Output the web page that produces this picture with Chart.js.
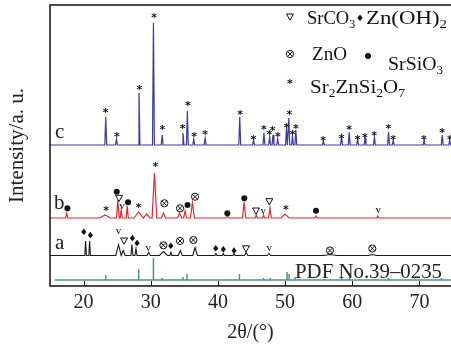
<!DOCTYPE html>
<html>
<head>
<meta charset="utf-8">
<script src="https://cdn.jsdelivr.net/npm/chart.js@4.4.1/dist/chart.umd.min.js"></script>
<style>
  html, body { margin: 0; padding: 0; background: #fff; }
  #wrap { width: 451px; height: 346px; }
</style>
</head>
<body>
<div id="wrap"><canvas id="chart7"></canvas></div>
<script>
// peak positions (2theta, deg), heights (a.u. above the trace baseline), half widths (deg)
const cPos = [23.3, 24.9, 28.25, 30.4, 31.7, 34.8, 35.45, 36.4, 38.1, 43.25, 45.3, 46.85, 47.7, 48.2, 48.9, 50.2, 50.55, 51.1, 51.6, 55.7, 58.4, 59.55, 60.8, 61.9, 63.3, 65.4, 66.1, 70.7, 73.4, 74.5];
const cInt = [28, 6, 52, 122, 10, 12, 34, 6, 7, 28, 5, 12, 8, 10, 6, 17, 27, 9, 15, 4, 8, 13, 6, 7, 8, 13, 5, 5, 10, 5];

const bPos = [17.5, 23.2, 25.1, 25.6, 26.5, 28.2, 29.4, 30.55, 31.9, 34.3, 35.1, 36.2, 41.4, 43.9, 45.7, 46.8, 47.75, 50.0, 54.6, 63.8];
const bInt = [5, 3, 18, 8, 12, 6, 4, 45, 5, 5, 7, 15, 2, 15, 3, 3, 10, 4, 2, 2];
const bWid = [0.15, 0.8, 0.2, 0.15, 0.15, 0.7, 0.5, 0.35, 0.3, 0.3, 0.2, 0.3, 0.2, 0.25, 0.15, 0.15, 0.2, 0.6, 0.15, 0.15];

const aPos = [20.3, 20.9, 25.2, 25.9, 27.2, 27.8, 29.7, 31.9, 33.0, 34.4, 36.6, 39.7, 40.8, 42.4, 44.2, 47.6, 56.7, 63.0];
const aInt = [14.5, 14.5, 11, 5, 11, 7, 3, 4, 3, 5, 8, 2, 2, 2, 3, 2, 1, 1];
const aWid = [0.12, 0.12, 0.4, 0.3, 0.15, 0.15, 0.25, 0.6, 0.15, 0.3, 0.35, 0.15, 0.15, 0.15, 0.25, 0.25, 1.0, 0.6];

// PDF No.39-0235 reference lines
const pdfPos = [23.3, 28.2, 30.4, 31.7, 34.8, 35.4, 43.2, 46.8, 47.8, 50.3, 50.6, 51.5, 55.8, 58.4, 59.6, 65.4, 73.3];
const pdfInt = [5, 11, 22, 2, 3, 6, 6, 2, 2, 8, 6, 3, 1, 2, 3, 2, 2];

// phase marks: position, symbol, height above baseline
const cMarkPos = [23.3, 24.94, 28.3, 30.49, 31.73, 34.76, 35.51, 36.44, 38.08, 43.29, 45.27, 46.86, 47.65, 48.15, 48.94, 50.24, 50.63, 51.13, 51.62, 55.68, 58.42, 59.55, 60.8, 61.89, 63.27, 65.36, 66.1, 70.67, 73.39, 74.54];
const cMarkY = [34, 10, 57, 129, 17, 18, 41, 10, 12, 32, 7, 17, 12, 16, 10, 19, 32, 12, 18, 6, 8, 17, 7, 9, 11, 18, 7, 7, 14, 7];

const bMarkPos = [17.59, 23.35, 24.94, 25.28, 25.73, 26.62, 28.21, 30.68, 32.02, 34.36, 35.48, 36.59, 41.4, 43.93, 45.67, 46.76, 47.65, 50.13, 54.6, 63.87];
const bMarkSym = ['dot', 'star', 'dot', 'tri', 'v', 'dot', 'star', 'star', 'ox', 'ox', 'dot', 'ox', 'dot', 'dot', 'tri', 'v', 'tri', 'star', 'dot', 'v'];
const bMarkY = [9.7, 8.7, 26.3, 19.7, 12, 15.7, 12.3, 53.3, 14.7, 9.7, 13, 21.3, 4.7, 19.7, 7, 7, 16.3, 9.7, 7.3, 8];

const aMarkPos = [20.03, 21.01, 25.18, 26.03, 27.26, 27.96, 29.64, 31.88, 32.98, 34.36, 36.34, 39.67, 40.8, 42.4, 44.18, 47.65, 56.68, 62.98];
const aMarkSym = ['dia', 'dia', 'v', 'tri', 'dia', 'dia', 'v', 'ox', 'dia', 'ox', 'ox', 'dia', 'dia', 'dia', 'tri', 'v', 'ox', 'ox'];
const aMarkY = [23.5, 20.2, 24.5, 14.5, 17.2, 12.2, 7.8, 10.2, 9.5, 14.5, 15.5, 7, 6, 4.7, 6.7, 7, 5, 7];

// vertical offsets of the stacked patterns
const offC = 141, offB = 68, offA = 30.5, offPdf = 6;

function profile(pos, inten, wid, off, from, to) {
  const pts = [{x: from, y: off}, {x: to, y: off}];
  pos.forEach((p, i) => {
    const w = Array.isArray(wid) ? wid[i] : wid;
    pts.push({x: p - w, y: off}, {x: p, y: off + inten[i]}, {x: p + w, y: off});
  });
  return pts.sort((u, v) => u.x - v.x);
}

function sticks(pos, inten, off, from, to) {
  const pts = [{x: from, y: off}];
  pos.forEach((p, i) => {
    pts.push({x: p, y: off}, {x: p, y: off + inten[i]}, {x: p, y: off});
  });
  pts.push({x: to, y: off});
  return pts;
}

const serif = '"Liberation Serif", "DejaVu Serif", serif';

function mark(ctx, sym, x, y) {
  ctx.save();
  ctx.fillStyle = '#111';
  ctx.strokeStyle = '#111';
  ctx.lineWidth = 1;
  if (sym === 'star') {
    ctx.font = 'bold 11px "DejaVu Sans"';
    ctx.textAlign = 'center';
    ctx.textBaseline = 'middle';
    ctx.fillText('*', x, y + 2);
  } else if (sym === 'dot') {
    ctx.beginPath(); ctx.arc(x, y, 3, 0, Math.PI * 2); ctx.fill();
  } else if (sym === 'dia') {
    ctx.beginPath();
    ctx.moveTo(x, y - 3.5); ctx.lineTo(x + 2.6, y); ctx.lineTo(x, y + 3); ctx.lineTo(x - 2.6, y);
    ctx.closePath(); ctx.fill();
  } else if (sym === 'tri') {
    ctx.beginPath();
    ctx.moveTo(x - 3.5, y - 3); ctx.lineTo(x + 3.5, y - 3); ctx.lineTo(x, y + 3.2);
    ctx.closePath(); ctx.stroke();
  } else if (sym === 'v') {
    ctx.font = '11px ' + serif;
    ctx.textAlign = 'center';
    ctx.textBaseline = 'middle';
    ctx.fillText('v', x, y);
  } else if (sym === 'ox') {
    ctx.beginPath(); ctx.arc(x, y, 3.6, 0, Math.PI * 2); ctx.stroke();
    const d = 2.4;
    ctx.beginPath();
    ctx.moveTo(x - d, y - d); ctx.lineTo(x + d, y + d);
    ctx.moveTo(x + d, y - d); ctx.lineTo(x - d, y + d);
    ctx.stroke();
  }
  ctx.restore();
}

// text with _n subscripts, squeezed or stretched to the given width
function rich(ctx, str, x, y, size, width) {
  const parts = [];
  for (let i = 0; i < str.length; i++) {
    let ch = str[i], sub = false;
    if (ch === '_') { ch = str[++i]; sub = true; }
    parts.push({ch, sub});
  }
  let natural = 0;
  parts.forEach(p => {
    ctx.font = (p.sub ? size * 0.65 : size) + 'px ' + serif;
    natural += ctx.measureText(p.ch).width;
  });
  const k = width ? width / natural : 1;
  ctx.save();
  ctx.translate(x, y);
  ctx.scale(k, 1);
  let cx = 0;
  parts.forEach(p => {
    ctx.font = (p.sub ? size * 0.65 : size) + 'px ' + serif;
    ctx.fillText(p.ch, cx, p.sub ? size * 0.22 : 0);
    cx += ctx.measureText(p.ch).width;
  });
  ctx.restore();
}

const decor = {
  id: 'decor',
  afterDatasetsDraw(chart) {
    const ctx = chart.ctx;
    const xs = chart.scales.x, ys = chart.scales.y;
    const area = chart.chartArea;
    ctx.save();
    // frame
    ctx.strokeStyle = '#111';
    ctx.lineWidth = 1.5;
    ctx.beginPath();
    ctx.moveTo(area.right + 5, area.top);
    ctx.lineTo(area.left, area.top);
    ctx.lineTo(area.left, area.bottom);
    ctx.lineTo(area.right + 5, area.bottom);
    ctx.stroke();
    // inward ticks
    ctx.lineWidth = 1;
    xs.ticks.forEach(t => {
      const px = Math.round(xs.getPixelForValue(t.value)) + 0.5;
      ctx.beginPath(); ctx.moveTo(px, area.bottom); ctx.lineTo(px, area.bottom - 5); ctx.stroke();
    });
    // phase marks
    const put = (pos, sym, hy, off) => pos.forEach((p, i) => {
      mark(ctx, Array.isArray(sym) ? sym[i] : sym, xs.getPixelForValue(p), ys.getPixelForValue(off + hy[i]));
    });
    put(cMarkPos, 'star', cMarkY, offC);
    put(bMarkPos, bMarkSym, bMarkY, offB);
    put(aMarkPos, aMarkSym, aMarkY, offA);
    // trace labels
    ctx.fillStyle = '#222';
    ctx.font = '21px ' + serif;
    ctx.textAlign = 'left';
    ctx.textBaseline = 'alphabetic';
    ctx.fillText('c', 55, 138);
    ctx.fillText('b', 54, 209);
    ctx.fillText('a', 55, 249);
    rich(ctx, 'PDF No.39\u20130235', 295, 278, 22, 147);
    // legend
    ctx.fillStyle = '#111';
    mark(ctx, 'tri', 290, 17);
    rich(ctx, 'SrCO_3', 307, 24, 18.5);
    mark(ctx, 'dia', 360, 18);
    rich(ctx, 'Zn(OH)_2', 366, 24, 19, 81);
    mark(ctx, 'ox', 290, 54);
    rich(ctx, 'ZnO', 312, 60, 19, 35);
    mark(ctx, 'dot', 368, 56);
    rich(ctx, 'SrSiO_3', 388, 70, 19, 55);
    mark(ctx, 'star', 290, 82);
    rich(ctx, 'Sr_2ZnSi_2O_7', 310, 93, 19, 95);
    ctx.restore();
  }
};

new Chart(document.getElementById('chart7'), {
  type: 'line',
  data: {
    datasets: [
      { data: profile(cPos, cInt, 0.14, offC, 15, 75), borderColor: '#3a3aa4', borderWidth: 1.2 },
      { data: profile(bPos, bInt, bWid, offB, 15, 75), borderColor: '#e8262b', borderWidth: 1.2 },
      { data: profile(aPos, aInt, aWid, offA, 15, 75), borderColor: '#1a1a1a', borderWidth: 1.1 },
      { data: sticks(pdfPos, pdfInt, offPdf, 15.7, 75), borderColor: '#4b9485', borderWidth: 1.5 }
    ]
  },
  options: {
    responsive: true,
    maintainAspectRatio: false,
    animation: false,
    elements: { point: { radius: 0 }, line: { tension: 0 } },
    layout: { padding: { top: 5, right: 0, bottom: 0, left: 0 } },
    plugins: { legend: { display: false }, tooltip: { enabled: false } },
    scales: {
      x: {
        type: 'linear',
        min: 15,
        max: 74.7,
        afterFit(s) { s.height = 60; },
        afterBuildTicks(s) { s.ticks = [20, 30, 40, 50, 60, 70].map(v => ({value: v})); },
        grid: { display: false, drawTicks: false },
        border: { display: false },
        ticks: { padding: 5, color: '#222', font: { family: serif, size: 20 }, maxRotation: 0 },
        title: { display: true, text: '2\u03b8/(\u00b0)', color: '#222', font: { family: serif, size: 20 }, padding: { top: 0, bottom: 1 } }
      },
      y: {
        type: 'linear',
        min: 0,
        max: 281,
        afterFit(s) { s.width = 50; },
        grid: { display: false, drawTicks: false },
        border: { display: false },
        ticks: { display: false },
        title: { display: true, text: 'Intensity/a. u.', color: '#222', font: { family: serif, size: 21 }, padding: { top: 5, bottom: 0 } }
      }
    }
  },
  plugins: [decor]
});
</script>
</body>
</html>
